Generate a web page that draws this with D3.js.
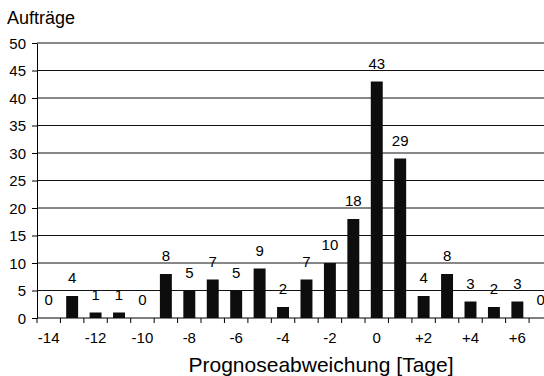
<!DOCTYPE html>
<html>
<head>
<meta charset="utf-8">
<script src="https://cdn.jsdelivr.net/npm/d3@7"></script>
<style>
  html, body { margin: 0; padding: 0; background: #fff; overflow: hidden; }
  text { font-family: "Liberation Sans", Arial, sans-serif; fill: #000; }
</style>
</head>
<body>
<svg id="chart" width="544" height="376"></svg>
<script>
const categories = [-14,-13,-12,-11,-10,-9,-8,-7,-6,-5,-4,-3,-2,-1,0,1,2,3,4,5,6,7];
const values     = [0,4,1,1,0,8,5,7,5,9,2,7,10,18,43,29,4,8,3,2,3,0];
const yTicks = [0,5,10,15,20,25,30,35,40,45,50];
const xTickLabels = [-14,-12,-10,-8,-6,-4,-2,0,2,4,6];
const yTitle = "Aufträge";
const xTitle = "Prognoseabweichung [Tage]";

const FONT = "'Liberation Sans', Arial, sans-serif";
const svg = d3.select("#chart");
const plotLeft = 37, plotRight = 552.5, plotTop = 43, plotBottom = 318;

const y = d3.scaleLinear().domain([0, 50]).range([plotBottom, plotTop]);
const x = d3.scaleBand().domain(categories).range([plotLeft, plotRight])
  .paddingInner(0.49).paddingOuter(0.245);
const step = x.step();

// gridlines
svg.append("g").selectAll("line").data(yTicks.filter(t => t > 0)).join("line")
  .attr("x1", plotLeft).attr("x2", plotRight)
  .attr("y1", d => y(d)).attr("y2", d => y(d))
  .attr("stroke", "#111").attr("stroke-width", 1);

// y axis
const yAxis = d3.axisLeft(y).tickValues(yTicks).tickSize(5).tickPadding(6).tickSizeOuter(0);
const gy = svg.append("g").attr("transform", `translate(${plotLeft},0)`).call(yAxis);
gy.selectAll("path,line").attr("stroke", "#000");
gy.selectAll("text").style("font-size", "15px").attr("dy", "0.35em")
  .style("font-family", FONT).attr("fill", "#000");

// x axis line and ticks at category boundaries
const boundaries = d3.range(categories.length + 1).map(i => plotLeft + i * step);
svg.append("line").attr("x1", plotLeft).attr("x2", plotRight)
  .attr("y1", plotBottom).attr("y2", plotBottom).attr("stroke", "#000");
svg.append("g").selectAll("line").data(boundaries).join("line")
  .attr("x1", d => d).attr("x2", d => d).attr("y1", plotBottom).attr("y2", plotBottom + 5)
  .attr("stroke", "#000");

// x tick labels
svg.append("g").selectAll("text").data(xTickLabels).join("text")
  .attr("x", d => x(d) + x.bandwidth() / 2)
  .attr("y", 343)
  .attr("text-anchor", "middle")
  .style("font-size", "15px")
  .text(d => d > 0 ? "+" + d : String(d));

// bars
svg.append("g").selectAll("rect").data(categories).join("rect")
  .attr("x", d => x(d))
  .attr("width", x.bandwidth())
  .attr("y", (d, i) => y(values[i]))
  .attr("height", (d, i) => plotBottom - y(values[i]))
  .attr("fill", "#0d0d0d");

// value labels
svg.append("g").selectAll("text").data(categories).join("text")
  .attr("x", d => x(d) + x.bandwidth() / 2)
  .attr("y", (d, i) => y(values[i]) - 13)
  .attr("text-anchor", "middle")
  .style("font-size", "15px")
  .text((d, i) => values[i]);

// titles
svg.append("text").attr("x", 7).attr("y", 24).style("font-size", "18px").text(yTitle);
svg.append("text").attr("x", (190 + 452) / 2).attr("y", 372).attr("text-anchor", "middle")
  .style("font-size", "21px").text(xTitle);
</script>
</body>
</html>
